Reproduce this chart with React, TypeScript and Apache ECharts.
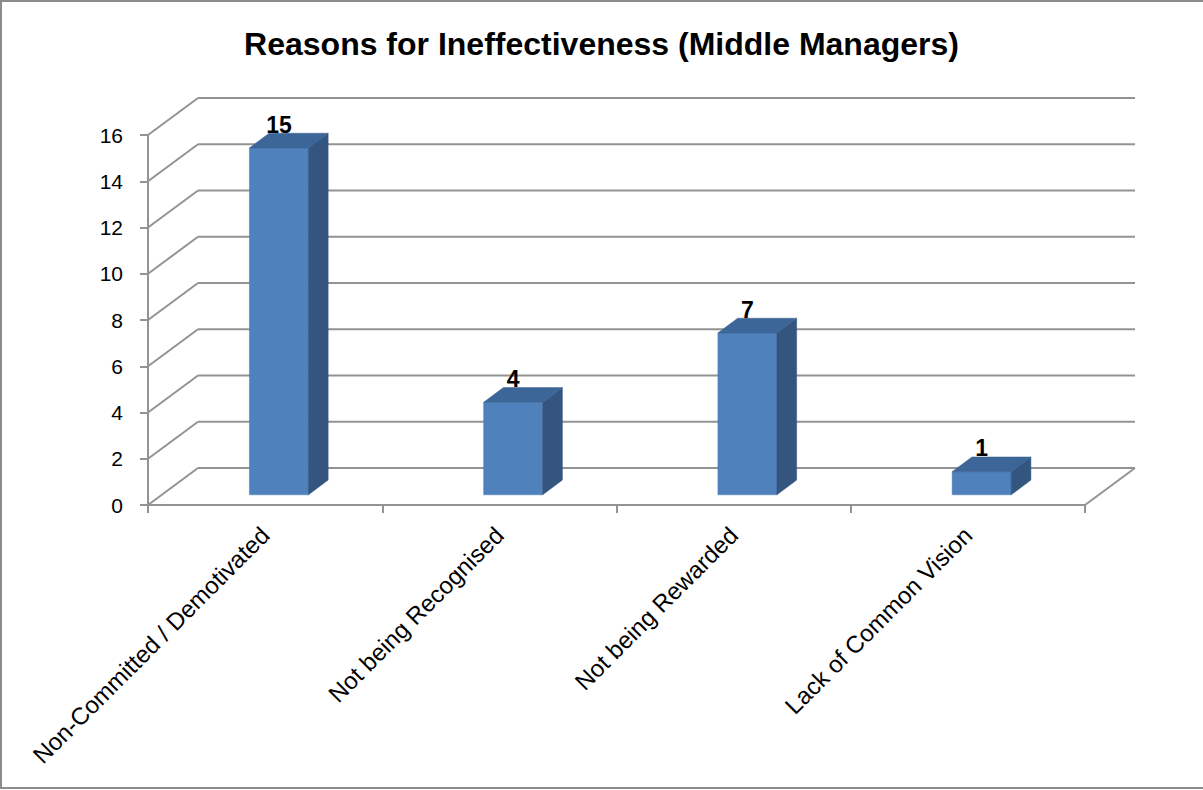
import React, { useEffect, useRef } from "react";
import * as echarts from "echarts";

const TITLE = "Reasons for Ineffectiveness (Middle Managers)";
const categories = [
  "Non-Committed / Demotivated",
  "Not being Recognised",
  "Not being Rewarded",
  "Lack of Common Vision",
];
const values = [15, 4, 7, 1];
const gridTicks = [0, 2, 4, 6, 8, 10, 12, 14, 16];

const DEPTH_X = 50;
const DEPTH_Y = -37;
const GRID_COLOR = "#939393";
const FONT = "'Liberation Sans', Arial, sans-serif";

export default function App() {
  const ref = useRef<HTMLDivElement>(null);
  useEffect(() => {
    if (!ref.current) return;
    const chart = echarts.init(ref.current, null, { renderer: "svg" });
    const option: any = {
      animation: false,
      backgroundColor: "#ffffff",
      title: {
        text: TITLE,
        left: "center",
        top: 23,
        textStyle: { fontFamily: FONT, fontSize: 32, fontWeight: "bold", color: "#000" },
      },
      graphic: [
        {
          type: "rect",
          shape: { x: 1, y: 1, width: 1240, height: 787 },
          style: { fill: "none", stroke: "#8c8c8c", lineWidth: 2 },
          silent: true,
        },
      ],
      grid: { left: 148, top: 135, right: 118, bottom: 285 },
      xAxis: {
        type: "category",
        data: categories,
        boundaryGap: true,
        axisLine: { show: true, lineStyle: { color: GRID_COLOR, width: 2 } },
        axisTick: { show: true, length: 8, alignWithLabel: false, lineStyle: { color: GRID_COLOR, width: 2 } },
        axisLabel: {
          rotate: 45,
          interval: 0,
          margin: 26,
          fontFamily: FONT,
          fontSize: 24,
          color: "#000",
        },
        splitLine: { show: false },
      },
      yAxis: {
        type: "value",
        min: 0,
        max: 16,
        interval: 2,
        axisLine: { show: true, lineStyle: { color: GRID_COLOR, width: 2 } },
        axisTick: { show: true, length: 8, lineStyle: { color: GRID_COLOR, width: 2 } },
        axisLabel: { margin: 25, fontFamily: FONT, fontSize: 21, color: "#000" },
        splitLine: { show: false },
      },
      series: [
        {
          type: "custom",
          name: "grid3d",
          silent: true,
          clip: false,
          z: 1,
          data: gridTicks.map((v) => [0, v]),
          renderItem: (params: any, api: any) => {
            const cs = params.coordSys;
            const v = api.value(1);
            const y = api.coord([0, v])[1];
            const xl = cs.x;
            const xr = cs.x + cs.width;
            const style = { stroke: GRID_COLOR, lineWidth: 2, fill: "none" };
            const children: any[] = [
              { type: "line", shape: { x1: xl, y1: y, x2: xl + DEPTH_X, y2: y + DEPTH_Y }, style },
              { type: "line", shape: { x1: xl + DEPTH_X, y1: y + DEPTH_Y, x2: xr + DEPTH_X, y2: y + DEPTH_Y }, style },
            ];
            if (v === 0) {
              children.push({ type: "line", shape: { x1: xr, y1: y, x2: xr + DEPTH_X, y2: y + DEPTH_Y }, style });
            }
            return { type: "group", children };
          },
        },
        {
          type: "custom",
          name: "bars",
          clip: false,
          z: 5,
          data: values.map((v, i) => [i, v]),
          renderItem: (params: any, api: any) => {
            const i = api.value(0);
            const v = api.value(1);
            const p0 = api.coord([i, 0]);
            const pv = api.coord([i, v]);
            const bw = api.size([1, 0])[0];
            const half = bw * 0.126;
            const ox = 13.8;
            const oy = -10.2;
            const sx = 19.7;
            const sy = -14.7;
            const L = p0[0] - half + ox;
            const R = p0[0] + half + ox;
            const yT = pv[1] + oy;
            const yB = p0[1] + oy;
            return {
              type: "group",
              children: [
                {
                  type: "polygon",
                  shape: { points: [[L, yT], [R, yT], [R, yB], [L, yB]] },
                  style: { fill: "#4F81BD", stroke: "#4a7ab3", lineWidth: 0.5 },
                },
                {
                  type: "polygon",
                  shape: { points: [[R, yT], [R + sx, yT + sy], [R + sx, yB + sy], [R, yB]] },
                  style: { fill: "#33557F", stroke: "#30507a", lineWidth: 0.5 },
                },
                {
                  type: "polygon",
                  shape: { points: [[L, yT], [R, yT], [R + sx, yT + sy], [L + sx, yT + sy]] },
                  style: { fill: "#3C6598", stroke: "#3a6193", lineWidth: 0.5 },
                },
                {
                  type: "text",
                  style: {
                    text: String(v),
                    x: (L + R) / 2,
                    y: yT + sy + 3,
                    align: "center",
                    verticalAlign: "bottom",
                    fontFamily: FONT,
                    fontSize: 23,
                    fontWeight: "bold",
                    fill: "#000",
                  },
                },
              ],
            };
          },
        },
      ],
    };
    chart.setOption(option);
    return () => chart.dispose();
  }, []);
  return (
    <div
      ref={ref}
      style={{ position: "absolute", left: 0, top: 0, width: 1203, height: 790 }}
    />
  );
}
